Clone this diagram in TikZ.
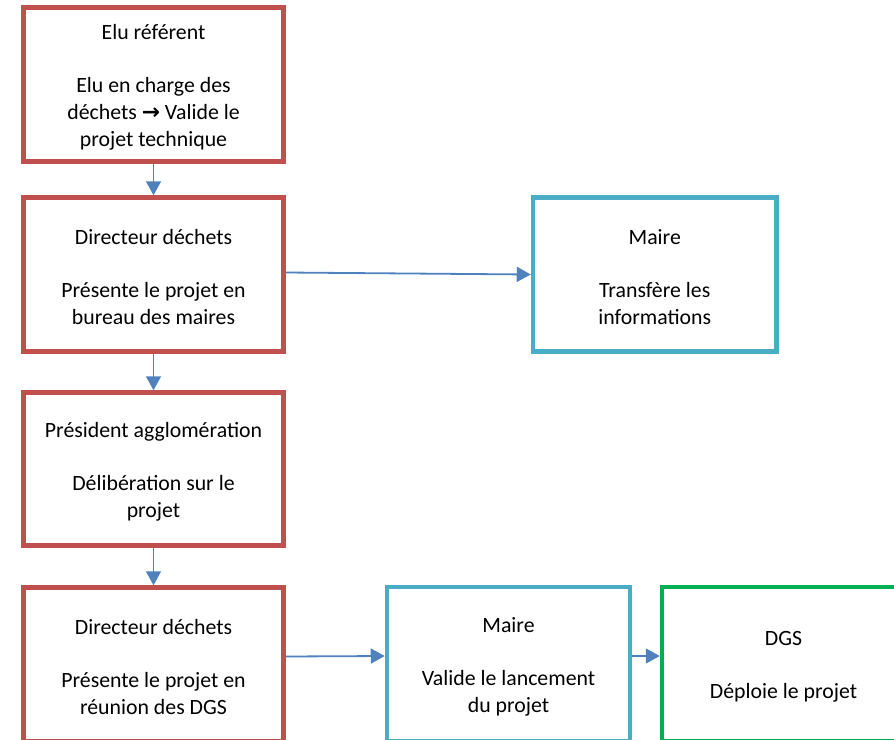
\documentclass[tikz,border=0pt]{standalone}
\usepackage{fontspec}
\setmainfont{Carlito}
\newfontfamily\symb{DejaVu Sans}
\usetikzlibrary{arrows.meta}
\definecolor{rouge}{HTML}{C0504D}
\definecolor{turquoise}{HTML}{4BACC6}
\definecolor{vert}{HTML}{00B050}
\definecolor{bleu}{HTML}{4F81BD}
\newcommand{\haut}{\rule{0pt}{20.5pt}}

\begin{document}
\begin{tikzpicture}
  [x=1pt,y=-1pt,
   every node/.style={font=\fontsize{21.8}{26.6}\selectfont,align=center},
   boite/.style={rectangle,draw=#1,line width=4.5pt,minimum height=154pt},
   fleche/.style={draw=bleu,line width=1.8pt,-{Triangle[length=14pt,width=15pt]}}]
  \useasboundingbox (0,0) rectangle (894,739);
  \clip (0,0) rectangle (894,739);

  \node[boite=rouge,minimum width=260pt] (elu) at (153.5,84.5)
    {\haut Elu référent\\[26.6pt]Elu en charge des\\déchets {\symb\bfseries →} Valide le\\projet technique};
  \node[boite=rouge,minimum width=260pt] (dir1) at (153.5,274.5)
    {\haut Directeur déchets\\[26.6pt]Présente le projet en\\bureau des maires};
  \node[boite=rouge,minimum width=260pt,minimum height=153pt] (pres) at (153.5,469)
    {\haut Président agglomération\\[26.6pt]Délibération sur le\\projet};
  \node[boite=rouge,minimum width=260pt] (dir2) at (153.5,664.5)
    {\haut Directeur déchets\\[26.6pt]Présente le projet en\\réunion des DGS};
  \node[boite=turquoise,minimum width=243.5pt] (maire1) at (654.75,274.5)
    {\haut Maire\\[26.6pt]Transfère les\\informations};
  \node[boite=turquoise,minimum width=243pt] (maire2) at (508.5,664)
    {\haut Maire\\[26.6pt]Valide le lancement\\du projet};
  \node[boite=vert,minimum width=243pt] (dgs) at (783.5,664)
    {\haut DGS\\[26.6pt]Déploie le projet};

  \foreach \from/\to in {elu/dir1,dir1/pres,pres/dir2}
    \draw[fleche] (\from) -- (\to);
  \draw[fleche] ([yshift=2pt]dir1.east) -- (maire1.west);
  \draw[fleche] ([yshift=8pt]dir2.east) -- ([yshift=8pt]maire2.west);
  \draw[fleche] ([yshift=8pt]maire2.east) -- ([yshift=8pt]dgs.west);

\end{tikzpicture}
\end{document}
